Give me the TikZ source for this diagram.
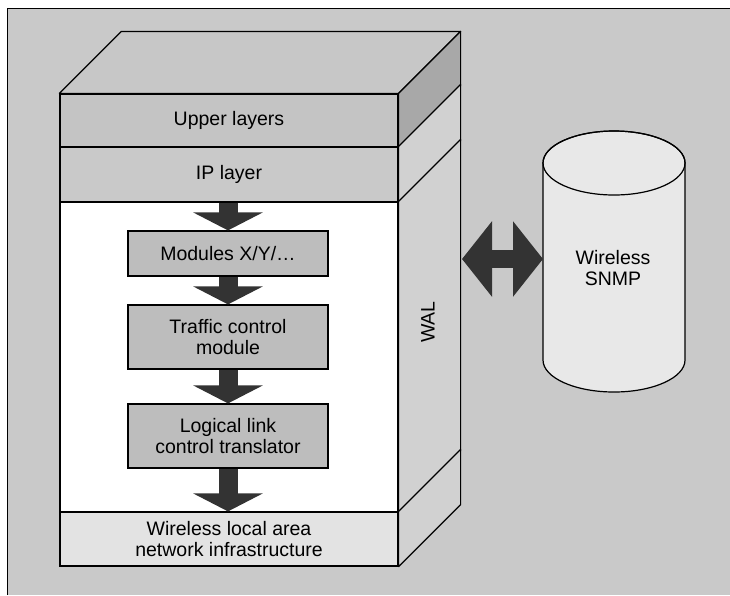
\documentclass[tikz,border=0pt]{standalone}
\usepackage{fontspec}
\setmainfont{Liberation Sans}
\usetikzlibrary{arrows.meta,calc}
\definecolor{bgc}{gray}{0.79}
\definecolor{topc}{gray}{0.78}
\definecolor{upc}{gray}{0.77}
\definecolor{ipc}{gray}{0.79}
\definecolor{sidedark}{gray}{0.66}
\definecolor{sidec}{gray}{0.82}
\definecolor{wlanc}{gray}{0.89}
\definecolor{boxc}{gray}{0.74}
\definecolor{cylc}{gray}{0.91}
\definecolor{arrc}{gray}{0.2}
\begin{document}
\begin{tikzpicture}[x=1pt,y=-1pt,
  lbl/.style={font=\fontsize{19.5}{21}\selectfont, align=center},
  face/.style={lbl, draw=black, line width=1.2pt, rectangle, inner sep=0pt},
  slab/.style={face, minimum width=338pt},
  modbox/.style={face, fill=boxc, minimum width=200pt},
  poly/.style={draw=black, line width=1.2pt, line join=round},
  fat/.style={draw=arrc, line width=19pt, -{Triangle[width=69pt,length=18pt]}},
  dbl/.style={draw=arrc, line width=18pt, {Triangle[width=74pt,length=30pt]}-{Triangle[width=74pt,length=30pt]}}
]
\useasboundingbox (0,0) rectangle (730,595);
\fill[white] (0,0) rectangle (730,595);
\fill[bgc] (7,8) rectangle (730,595);
\draw[line width=1pt] (7,595) -- (7,8) -- (730,8);

% front faces
\node[slab, fill=upc, minimum height=53pt] (upper) at (229,120.5) {Upper layers};
\node[slab, fill=ipc, minimum height=55pt] (ip) at (229,174.5) {IP layer};
\node[slab, fill=white, minimum height=310pt] (wal) at (229,357) {};
\node[slab, fill=wlanc, minimum height=54pt] (wlan) at (229,539) {Wireless local area\\network infrastructure};

% top face
\filldraw[poly, fill=topc] (upper.north west) -- ($(upper.north west)+(62,-62)$) -- ($(upper.north east)+(62,-62)$) -- (upper.north east) -- cycle;
% side faces
\filldraw[poly, fill=sidedark] (upper.north east) -- ($(upper.north east)+(62,-62)$) -- ($(upper.south east)+(62,-62)$) -- (upper.south east) -- cycle;
\filldraw[poly, fill=sidec] (ip.north east) -- ($(ip.north east)+(62,-62)$) -- ($(ip.south east)+(62,-62)$) -- (ip.south east) -- cycle;
\filldraw[poly, fill=sidec] (wal.north east) -- ($(wal.north east)+(62,-62)$) -- ($(wal.south east)+(62,-62)$) -- (wal.south east) -- cycle;
\filldraw[poly, fill=sidec] (wlan.north east) -- ($(wlan.north east)+(62,-62)$) -- ($(wlan.south east)+(62,-62)$) -- (wlan.south east) -- cycle;
\node[lbl, rotate=90] (waltxt) at (428,322) {WAL};

% inner modules
\node[modbox, minimum height=45pt] (mod) at (228,253.5) {Modules X/Y/…};
\node[modbox, minimum height=64pt] (tc) at (228,337) {Traffic control\\module};
\node[modbox, minimum height=64pt] (llc) at (228,436) {Logical link\\control translator};

% flow arrows
\draw[fat] (mod.north |- ip.south) -- (mod.north);
\draw[fat] (mod.south) -- (tc.north);
\draw[fat] (tc.south) -- (llc.north);
\draw[fat] (llc.south) -- (llc.south |- wlan.north);

% cylinder
\filldraw[poly, fill=cylc] (543,163) -- (543,360) arc[start angle=180, end angle=360, x radius=71pt, y radius=32pt] -- (685,163) arc[start angle=0, end angle=180, x radius=71pt, y radius=32pt] -- cycle;
\draw[poly] (614,163) ellipse [x radius=71pt, y radius=32pt];
\node[lbl] (snmp) at (613,268) {Wireless\\SNMP};

% double arrow between WAL side and SNMP
\coordinate (walR) at (462,259);
\coordinate (cylL) at (543,259);
\draw[dbl] (walR) -- (cylL);
\end{tikzpicture}
\end{document}
